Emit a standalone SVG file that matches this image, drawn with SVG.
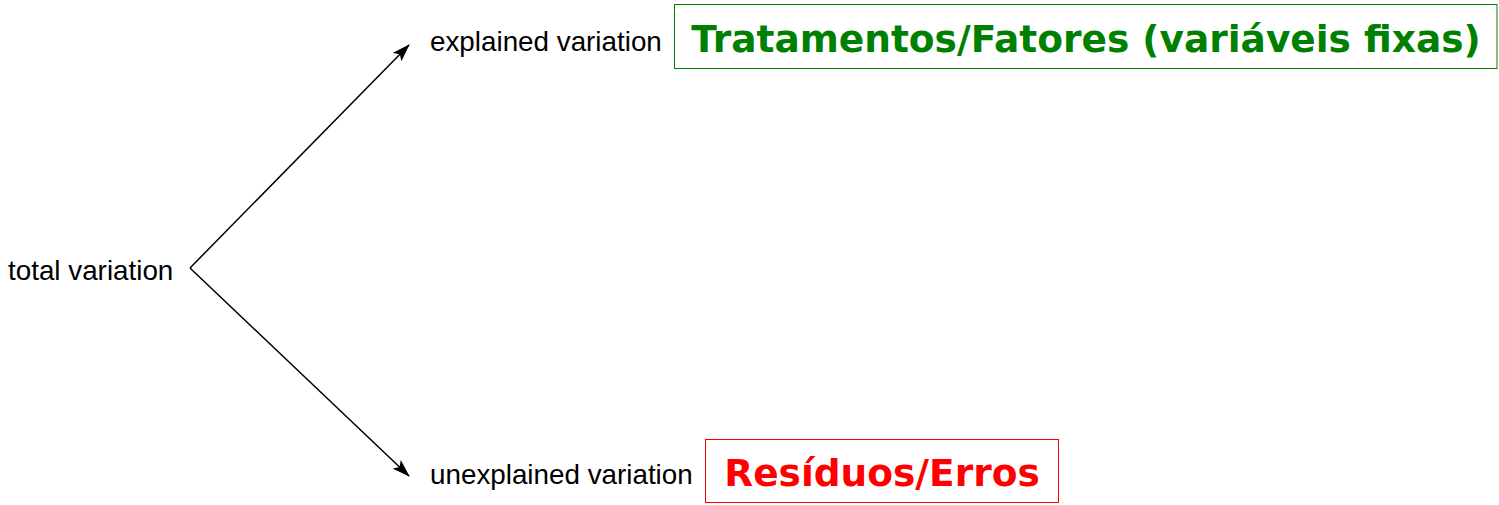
<svg xmlns="http://www.w3.org/2000/svg" width="1499" height="505" viewBox="0 0 1499 505">
<style>
.lbl{font-family:"Liberation Sans",Arial,sans-serif;font-size:27.8px;fill:#000}
.big{font-family:"DejaVu Sans",sans-serif;font-weight:bold;font-size:37.5px;text-anchor:middle}
.conn{stroke:#000;stroke-width:1.5;fill:none}
</style>
<defs>
<marker id="arr" viewBox="0 0 18 12" refX="17" refY="6" markerWidth="18" markerHeight="12" markerUnits="userSpaceOnUse" orient="auto">
<path d="M0,0 L18,6 L0,12 L4,6 Z" fill="#000"/>
</marker>
</defs>
<rect width="1499" height="505" fill="#fff"/>
<g id="connectors">
<path class="conn" d="M190,268 L409,45" marker-end="url(#arr)"/>
<path class="conn" d="M190,268 L409,476" marker-end="url(#arr)"/>
</g>
<g id="total"><text class="lbl" x="8" y="280">total variation</text></g>
<g id="explained"><text class="lbl" x="430" y="51">explained variation</text></g>
<g id="unexplained"><text class="lbl" x="430" y="484">unexplained variation</text></g>
<g id="tratamentos">
<rect x="674.5" y="4.5" width="822.5" height="64" fill="none" stroke="#008000" stroke-width="1"/>
<text class="big" x="1086" y="52" fill="#008000">Tratamentos/Fatores (variáveis fixas)</text>
</g>
<g id="residuos">
<rect x="705.5" y="439.5" width="353" height="63" fill="none" stroke="#ff0000" stroke-width="1"/>
<text class="big" x="882" y="486" fill="#ff0000">Resíduos/Erros</text>
</g>
</svg>
